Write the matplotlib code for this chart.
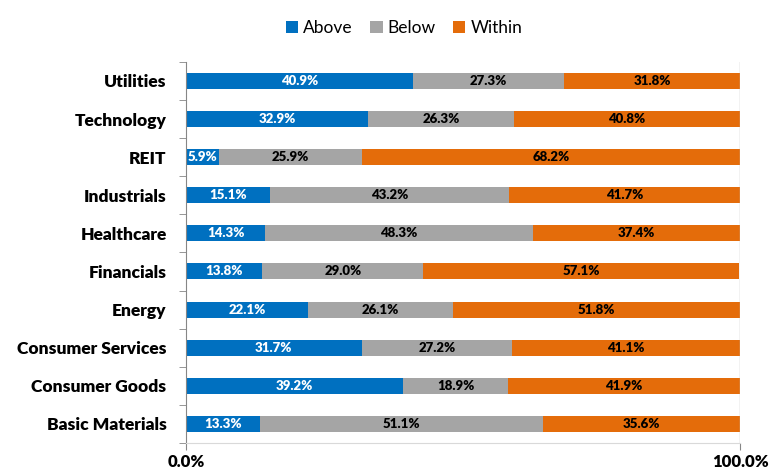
import numpy as np
import matplotlib.pyplot as plt

plt.rcParams['font.family'] = ['Lato', 'DejaVu Sans']

sectors = ["Basic Materials", "Consumer Goods", "Consumer Services", "Energy",
           "Financials", "Healthcare", "Industrials", "REIT", "Technology", "Utilities"]
above = [13.3, 39.2, 31.7, 22.1, 13.8, 14.3, 15.1, 5.9, 32.9, 40.9]
below = [51.1, 18.9, 27.2, 26.1, 29.0, 48.3, 43.2, 25.9, 26.3, 27.3]
within = [35.6, 41.9, 41.1, 51.8, 57.1, 37.4, 41.7, 68.2, 40.8, 31.8]

series = [("Above", above, "#0070C0", "white"),
          ("Below", below, "#A5A5A5", "black"),
          ("Within", within, "#E46C0A", "black")]

fig = plt.figure(figsize=(7.7, 4.72), dpi=100)
ax = fig.add_axes([0.2416, 0.0614, 0.7195, 0.8076])

y = np.arange(len(sectors))
left = np.zeros(len(sectors))
for name, vals, col, tcol in series:
    vals = np.array(vals)
    ax.barh(y, vals, left=left, height=0.42, color=col, label=name)
    for yi, l, v in zip(y, left, vals):
        ax.text(l + v / 2, yi, f"{v:.1f}%", ha="center", va="center",
                color=tcol, fontsize=9.5, fontweight="heavy")
    left += vals

ax.set_xlim(0, 100)
ax.set_ylim(-0.5, len(sectors) - 0.5)
ax.set_yticks(y)
ax.set_yticklabels(sectors, fontsize=12.5, fontweight="heavy")
ax.set_yticks(np.arange(-0.5, len(sectors), 1), minor=True)
ax.tick_params(axis="y", which="major", length=0, pad=14)
ax.tick_params(axis="y", which="minor", length=5, color="#868686")
ax.set_xticks([0, 100])
ax.set_xticklabels(["0.0%", "100.0%"], fontsize=12, fontweight="heavy")
ax.tick_params(axis="x", length=5, color="#868686", pad=3)
ax.axvline(100, color="#BFBFBF", lw=1)
for s in ["top", "right"]:
    ax.spines[s].set_visible(False)
ax.spines["left"].set_color("#868686")
ax.spines["bottom"].set_color("#D9D9D9")

fig.legend(loc="upper center", bbox_to_anchor=(0.525, 0.99), ncol=3, frameon=False,
           fontsize=12.5, handlelength=0.7, handleheight=0.7, handletextpad=0.3,
           columnspacing=1.0)

fig.savefig("out.png", dpi=100)
